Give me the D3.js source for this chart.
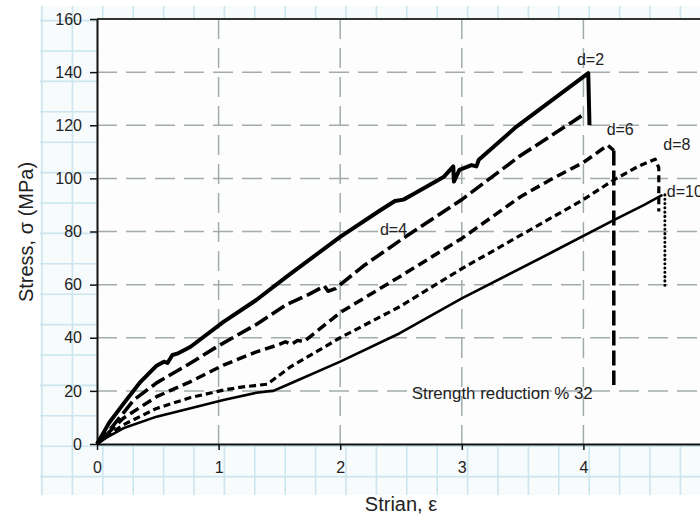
<!DOCTYPE html>
<html>
<head>
<meta charset="utf-8">
<script src="https://cdn.jsdelivr.net/npm/d3@7/dist/d3.min.js"></script>
<style>
body { margin: 0; background: #fff; }
svg { display: block; font-family: "Liberation Sans", Arial, sans-serif; }
</style>
</head>
<body>
<svg id="chart" width="700" height="517"></svg>
<script>
// ticks
var xTicks = [0, 1, 2, 3, 4, 5];
var yTicks = [0, 20, 40, 60, 80, 100, 120, 140, 160];

// d=2 (heavy solid), includes the drop after the peak
var strain2 = [0, 0.05, 0.1, 0.22, 0.35, 0.49, 0.55, 0.58, 0.62, 0.66, 0.77, 1.04, 1.31, 1.56, 2.0, 2.33, 2.45, 2.52, 2.6, 2.85, 2.93, 2.935, 2.98, 3.08, 3.12, 3.14, 3.45, 4.04, 4.05];
var stress2 = [0, 4, 8, 15.3, 23, 29.5, 31, 30.5, 33.5, 34, 36.6, 46, 54.2, 63, 78, 88, 91.5, 92, 94, 100.5, 104.5, 98.8, 103.2, 105, 104.5, 107, 119.5, 139.6, 120];

// d=4 (long dash)
var strain4 = [0, 0.1, 0.3, 0.49, 0.77, 1.0, 1.31, 1.56, 1.75, 1.87, 1.9, 1.96, 2.19, 2.52, 3.0, 3.48, 3.89, 4.0];
var stress4 = [0, 5, 16.5, 23, 30.5, 37, 45, 52.5, 56.5, 59.5, 57.5, 58.5, 67, 77.5, 92, 108.5, 120.7, 124];

// d=6 (dash)
var strain6 = [0, 0.1, 0.216, 0.49, 0.77, 1.04, 1.3, 1.5, 1.55, 1.6, 1.65, 1.7, 2.0, 2.49, 3.0, 3.48, 3.725, 4.0, 4.2, 4.25];
var stress6 = [0, 4.5, 9.7, 17.8, 23.5, 29.7, 34.5, 37.5, 38.5, 37.5, 39, 38.5, 49.5, 63, 77.4, 93, 99.4, 106, 112.5, 110.5];
var dropStrain6 = [4.25, 4.25];
var dropStress6 = [110.5, 22.2];

// d=8 (short dash), includes the drop
var strain8 = [0, 0.1, 0.216, 0.49, 0.77, 1.04, 1.2, 1.3, 1.4, 1.59, 2.0, 2.49, 3.0, 3.5, 4.0, 4.25, 4.45, 4.59, 4.62, 4.62];
var stress8 = [0, 3.5, 7.2, 13.4, 17.5, 20.3, 21.5, 22, 22.5, 29, 40, 51.7, 66, 79, 92, 99.4, 104.5, 107.2, 104, 87.5];

// d=10 (thin solid) and its dotted drop
var strain10 = [0, 0.1, 0.216, 0.49, 0.77, 1.04, 1.31, 1.4, 1.45, 1.59, 2.0, 2.49, 3.0, 3.725, 4.25, 4.5, 4.65];
var stress10 = [0, 3, 5.9, 10.3, 13.5, 16.6, 19.3, 19.8, 20, 22.8, 31, 41.7, 54.8, 71.8, 84.3, 90, 93.8];
var dropStrain10 = [4.67, 4.67];
var dropStress10 = [93.8, 59.5];

// annotations
var labelText = ["d=2", "d=4", "d=6", "d=8", "d=10"];
var labelStrain = [3.947, 2.327, 4.191, 4.657, 4.686];
var labelStress = [142.7, 78.8, 116.3, 110.7, 92.9];
var noteText = "Strength reduction % 32";
var noteStrain = 2.588, noteStress = 17.0;

var svg = d3.select("#chart");
var W = 700, H = 517;

var x = d3.scaleLinear().domain([0, 5]).range([97, 705]);
var y = d3.scaleLinear().domain([0, 160]).range([444, 19]);

// graph paper behind the chart
var paper = svg.append("g");
paper.append("rect").attr("x", 40).attr("y", 6).attr("width", W - 40).attr("height", 489)
	.attr("fill", "#f8fbfc");
paper.selectAll("line.v").data(d3.range(42, W, 30.4)).enter().append("line")
	.attr("x1", d => d).attr("x2", d => d).attr("y1", 6).attr("y2", 495)
	.attr("stroke", "#cbe6ee").attr("stroke-width", 1.6);
paper.selectAll("line.h").data(d3.range(20.6, 495, 30.4)).enter().append("line")
	.attr("x1", 40).attr("x2", W).attr("y1", d => d).attr("y2", d => d)
	.attr("stroke", "#cbe6ee").attr("stroke-width", 1.6);

// plot area
svg.append("rect").attr("x", 97).attr("y", 19).attr("width", W - 97).attr("height", 425)
	.attr("fill", "#fdfdfd");

// dashed grid
var grid = svg.append("g").attr("stroke", "#a3acac").attr("stroke-width", 1.5)
	.attr("stroke-dasharray", "20,9");
grid.selectAll("line.gh").data(yTicks.filter(v => v > 0 && v < 160)).enter().append("line")
	.attr("x1", x(0)).attr("x2", W).attr("y1", d => y(d)).attr("y2", d => y(d));
grid.selectAll("line.gv").data(xTicks.filter(v => v > 0)).enter().append("line")
	.attr("y1", y(160)).attr("y2", y(0)).attr("x1", d => x(d)).attr("x2", d => x(d));

// top frame
svg.append("line").attr("x1", x(0)).attr("x2", W).attr("y1", y(160)).attr("y2", y(160))
	.attr("stroke", "#333").attr("stroke-width", 2);

// axes
var yAxis = svg.append("g").attr("transform", "translate(" + x(0) + ",0)")
	.call(d3.axisLeft(y).tickValues(yTicks).tickSize(7).tickSizeOuter(0).tickPadding(8));
var xAxis = svg.append("g").attr("transform", "translate(0," + y(0) + ")")
	.call(d3.axisBottom(x).tickValues(xTicks).tickFormat(d3.format("d"))
		.tickSize(6).tickSizeOuter(0).tickPadding(12));
[yAxis, xAxis].forEach(function(a) {
	a.select(".domain").attr("stroke", "#111").attr("stroke-width", 2);
	a.selectAll(".tick line").attr("stroke", "#111").attr("stroke-width", 1.5);
	a.selectAll(".tick text").attr("fill", "#222").style("font-size", "16px");
});

// curves
var line = d3.line().x(d => x(d[0])).y(d => y(d[1]));
function pairs(a, b) { return a.map((v, i) => [v, b[i]]); }

var series = [
	{ pts: pairs(strain10, stress10), w: 2.6, dash: null },
	{ pts: pairs(strain8, stress8), w: 3.2, dash: "7,4" },
	{ pts: pairs(strain6, stress6), w: 3.5, dash: "10,5" },
	{ pts: pairs(dropStrain6, dropStress6), w: 3.5, dash: "15,5" },
	{ pts: pairs(strain4, stress4), w: 3.6, dash: "15,5" },
	{ pts: pairs(strain2, stress2), w: 4, dash: null },
	{ pts: pairs(dropStrain10, dropStress10), w: 3, dash: "0.1,4.2", cap: "round" }
];
series.forEach(function(s) {
	svg.append("path").attr("d", line(s.pts))
		.attr("fill", "none").attr("stroke", "#000")
		.attr("stroke-width", s.w)
		.attr("stroke-linejoin", "round")
		.attr("stroke-linecap", s.cap || "butt")
		.attr("stroke-dasharray", s.dash);
});

// labels
svg.selectAll("text.lbl").data(labelText).enter().append("text")
	.attr("x", (d, i) => x(labelStrain[i])).attr("y", (d, i) => y(labelStress[i]))
	.attr("fill", "#222").style("font-size", "16px").text(d => d);

svg.append("text").attr("x", x(noteStrain)).attr("y", y(noteStress))
	.attr("fill", "#222").style("font-size", "16px")
	.attr("textLength", 181).attr("lengthAdjust", "spacingAndGlyphs")
	.text(noteText);

// axis titles
svg.append("text").attr("x", 401).attr("y", 511).attr("text-anchor", "middle")
	.attr("fill", "#222").style("font-size", "20px").text("Strian, ε");
svg.append("text").attr("transform", "translate(33,232) rotate(-90)").attr("text-anchor", "middle")
	.attr("fill", "#222").style("font-size", "20px").text("Stress, σ (MPa)");
</script>
</body>
</html>
